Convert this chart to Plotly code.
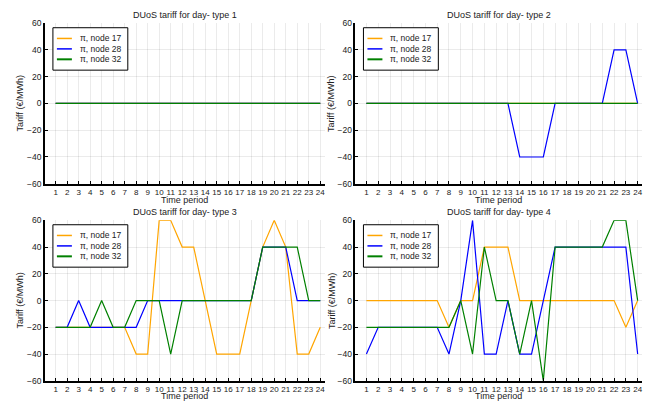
import plotly.graph_objects as go

periods = list(range(1, 25))
series_names = ["π, node 17", "π, node 28", "π, node 32"]
colors = ["#FFA500", "#0000FF", "#008000"]

# Day-type 1
t1_n17 = [0] * 24
t1_n28 = [0] * 24
t1_n32 = [0] * 24

# Day-type 2
t2_n17 = [0] * 24
t2_n28 = [0, 0, 0, 0, 0, 0, 0, 0, 0, 0, 0, 0, 0, -40, -40, -40, 0, 0, 0, 0, 0, 40, 40, 0]
t2_n32 = [0] * 24

# Day-type 3
t3_n17 = [-20, -20, -20, -20, -20, -20, -20, -40, -40, 60, 60, 40, 40, 0, -40, -40, -40, 0, 40, 60, 40, -40, -40, -20]
t3_n28 = [-20, -20, 0, -20, -20, -20, -20, -20, 0, 0, 0, 0, 0, 0, 0, 0, 0, 0, 40, 40, 40, 0, 0, 0]
t3_n32 = [-20, -20, -20, -20, 0, -20, -20, 0, 0, 0, -40, 0, 0, 0, 0, 0, 0, 0, 40, 40, 40, 40, 0, 0]

# Day-type 4
t4_n17 = [0, 0, 0, 0, 0, 0, 0, -20, 0, 0, 40, 40, 40, 0, 0, 0, 0, 0, 0, 0, 0, 0, -20, 0]
t4_n28 = [-40, -20, -20, -20, -20, -20, -20, -40, 0, 60, -40, -40, 0, -40, -40, 0, 40, 40, 40, 40, 40, 40, 40, -40]
t4_n32 = [-20, -20, -20, -20, -20, -20, -20, -20, 0, -40, 40, 0, 0, -40, 0, -60, 40, 40, 40, 40, 40, 60, 60, 0]

titles = ["DUoS tariff for day- type 1", "DUoS tariff for day- type 2",
          "DUoS tariff for day- type 3", "DUoS tariff for day- type 4"]
data = [
    [t1_n17, t1_n28, t1_n32],
    [t2_n17, t2_n28, t2_n32],
    [t3_n17, t3_n28, t3_n32],
    [t4_n17, t4_n28, t4_n32],
]
yticks = [-60, -40, -20, 0, 20, 40, 60]

W, H = 658, 405
# pixel boxes for plot areas: (left, right, top, bottom)
boxes = [(45, 325, 18.5, 183.3), (356, 643, 18.5, 183.3),
         (45, 325, 220.8, 385.3), (356, 643, 220.8, 385.3)]
legend_pos = [(53, 23.3), (364, 23.3), (53, 225.3), (364, 225.3)]
ylabel_x = [20, 332, 20, 332]
xlabel_y = [200, 400.5]


def px(x):
    return x / W


def py(y):
    return 1 - y / H


font = "Liberation Sans, Arial, sans-serif"
txt = "#222"
fig = go.Figure()
layout = dict(
    width=W, height=H,
    margin=dict(l=0, r=0, t=0, b=0),
    paper_bgcolor="white", plot_bgcolor="white",
    font=dict(family=font, size=9, color=txt),
    showlegend=False,
)
annotations = []
shapes = []
for i in range(4):
    k = "" if i == 0 else str(i + 1)
    l, r, t, b = boxes[i]
    for j in range(3):
        fig.add_trace(go.Scatter(
            x=periods, y=data[i][j], mode="lines", name=series_names[j],
            line=dict(color=colors[j], width=1.2),
            xaxis="x" + k, yaxis="y" + k,
        ))
    layout["xaxis" + k] = dict(
        domain=[px(l), px(r)], anchor="y" + k, range=[0.07, 24.37],
        tickmode="array", tickvals=periods, ticktext=[str(p) for p in periods],
        tickangle=0,
        showgrid=True, gridcolor="rgba(0,0,0,0.08)", gridwidth=1,
        zeroline=False, showline=True, linecolor="black", linewidth=1.5,
        ticks="inside", ticklen=3, tickcolor="black",
        tickfont=dict(size=8, color=txt),
    )
    layout["yaxis" + k] = dict(
        domain=[py(b), py(t)], anchor="x" + k, range=[-60, 60],
        tickmode="array", tickvals=yticks,
        showgrid=True, gridcolor="rgba(0,0,0,0.08)", gridwidth=1,
        zeroline=False, showline=True, linecolor="black", linewidth=1.5,
        ticks="inside", ticklen=3, tickcolor="black",
        tickfont=dict(size=8.5, color=txt),
    )
    # legend box drawn manually (compact, like the reference)
    lx, ly = legend_pos[i]
    shapes.append(dict(type="rect", xref="paper", yref="paper",
                       x0=px(lx), x1=px(lx + 75), y0=py(ly), y1=py(ly + 43.5),
                       line=dict(color="black", width=1), fillcolor="white",
                       layer="above"))
    for j in range(3):
        yy = ly + 11 + 10.7 * j
        shapes.append(dict(type="line", xref="paper", yref="paper",
                           x0=px(lx + 4), x1=px(lx + 19), y0=py(yy), y1=py(yy),
                           line=dict(color=colors[j], width=1.5 if j < 2 else 2),
                           layer="above"))
        annotations.append(dict(
            text=series_names[j], x=px(lx + 25), y=py(yy),
            xref="paper", yref="paper", xanchor="left", yanchor="middle",
            showarrow=False, font=dict(size=8.5, color=txt),
        ))
    annotations.append(dict(
        text=titles[i], x=px((l + r) / 2), y=py(t - 8.5),
        xref="paper", yref="paper", xanchor="center", yanchor="middle",
        showarrow=False, font=dict(size=9, color=txt),
    ))
    annotations.append(dict(
        text="Tariff (€/MWh)", x=px(ylabel_x[i]), y=py((t + b) / 2),
        xref="paper", yref="paper", xanchor="center", yanchor="middle",
        textangle=-90, showarrow=False, font=dict(size=9, color=txt),
    ))
    annotations.append(dict(
        text="Time period", x=px((l + r) / 2), y=py(xlabel_y[i // 2]),
        xref="paper", yref="paper", xanchor="center", yanchor="middle",
        showarrow=False, font=dict(size=9, color=txt),
    ))
layout["annotations"] = annotations
layout["shapes"] = shapes
fig.update_layout(**layout)
fig.write_html(
    "out.html",
    config={"displayModeBar": False},
    post_script="document.body.style.margin='0';document.body.style.overflow='hidden';",
)
